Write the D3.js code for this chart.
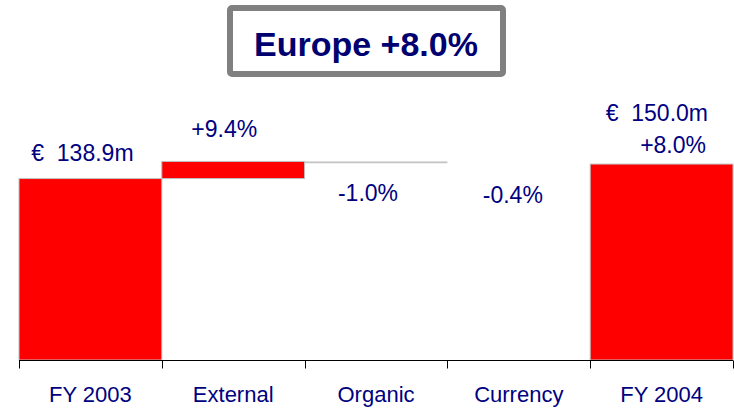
<!DOCTYPE html>
<html>
<head>
<meta charset="utf-8">
<script src="https://cdn.jsdelivr.net/npm/d3@7"></script>
<style>
  body { margin: 0; background: #fff; }
  svg { display: block; font-family: "Liberation Sans", Arial, sans-serif; }
</style>
</head>
<body>
<svg id="chart" width="734" height="411"></svg>
<script>
// waterfall data (EUR m)
const categories = ['FY 2003', 'External', 'Organic', 'Currency', 'FY 2004'];
const kinds = ['total', 'step', 'step', 'step', 'total'];
const amounts = [138.9, 13.1, -1.4, -0.6, 150.0];
const valueLabels = ['€  138.9m', '+9.4%', '-1.0%', '-0.4%', '€  150.0m'];
const extraLabels = ['', '', '', '', '+8.0%'];
const title = 'Europe +8.0%';

// label layout per category: [dx from band centre, dy from bar top]
const labelDx = [-8, -9, -8, -6, 0];
const labelDy = [-18, -24, 40, 40, -43];

const svg = d3.select('#chart');
const NAVY = '#000080';

let x = d3.scaleBand()
  .domain(categories)
  .range([19, 733])
  .padding(0);

let y = d3.scaleLinear()
  .domain([0, 160])
  .range([360, 151]);

// compute bar extents
let level = 0;
let bars = categories.map(function (c, i) {
  let from, to;
  if (kinds[i] === 'total') {
    from = 0;
    to = amounts[i];
    level = amounts[i];
  } else {
    from = level;
    to = level + amounts[i];
    level = to;
  }
  return { cat: c, i: i, from: from, to: to, kind: kinds[i], neg: to < from };
});

// bars
svg.append('g')
  .selectAll('rect')
  .data(bars)
  .join('rect')
  .attr('x', d => x(d.cat))
  .attr('width', x.bandwidth())
  .attr('y', d => y(Math.max(d.from, d.to)))
  .attr('height', d => Math.abs(y(d.from) - y(d.to)))
  .attr('fill', function (d) {
    if (!d.neg) return '#ff0000';
    return Math.abs(y(d.from) - y(d.to)) >= 1 ? '#c4c4c4' : 'none';
  })
  .attr('stroke', d => d.neg ? 'none' : '#c0c0c0')
  .attr('stroke-width', 1);

// axis baseline + boundary ticks
let axisY = y(0) + 0.5;
let bounds = categories.map(c => x(c)).concat([x.range()[1]]);
let ax = svg.append('g');
ax.append('line')
  .attr('x1', x.range()[0]).attr('x2', x.range()[1])
  .attr('y1', axisY).attr('y2', axisY)
  .attr('stroke', '#000').attr('stroke-width', 1);
ax.selectAll('line.tick')
  .data(bounds)
  .join('line')
  .attr('class', 'tick')
  .attr('x1', d => Math.round(d) + 0.5).attr('x2', d => Math.round(d) + 0.5)
  .attr('y1', axisY).attr('y2', axisY + 8)
  .attr('stroke', '#000').attr('stroke-width', 1);

// category labels
let labels = svg.append('g')
  .attr('transform', `translate(0,${axisY})`)
  .call(d3.axisBottom(x).tickSize(0).tickPadding(0));
labels.select('.domain').remove();
labels.selectAll('text')
  .attr('y', 41)
  .attr('dy', 0)
  .attr('fill', NAVY)
  .style('font-size', '22px')
  .style('font-family', '"Liberation Sans", Arial, sans-serif');

// value labels
let vl = svg.append('g')
  .style('font-size', '23px')
  .attr('fill', NAVY)
  .style('white-space', 'pre');

vl.selectAll('text')
  .data(bars)
  .join('text')
  .attr('xml:space', 'preserve')
  .attr('text-anchor', d => d.i === categories.length - 1 ? 'end' : 'middle')
  .attr('x', function (d) {
    if (d.i === categories.length - 1) return x(d.cat) + x.bandwidth() - 25;
    return x(d.cat) + x.bandwidth() / 2 + labelDx[d.i];
  })
  .attr('y', d => y(d.kind === 'total' ? d.to : Math.max(d.from, d.to)) + labelDy[d.i])
  .text(d => valueLabels[d.i]);

vl.selectAll('text.extra')
  .data(bars.filter(d => extraLabels[d.i] !== ''))
  .join('text')
  .attr('class', 'extra')
  .attr('text-anchor', 'end')
  .attr('x', d => x(d.cat) + x.bandwidth() - 27)
  .attr('y', d => y(d.to) - 11)
  .text(d => extraLabels[d.i]);

// title box
let tb = svg.append('g');
tb.append('rect')
  .attr('x', 230).attr('y', 8)
  .attr('width', 273).attr('height', 66)
  .attr('rx', 2)
  .attr('fill', '#fff')
  .attr('stroke', '#808080')
  .attr('stroke-width', 6);
tb.append('text')
  .attr('x', 366).attr('y', 56)
  .attr('text-anchor', 'middle')
  .attr('fill', '#000070')
  .style('font-size', '34px')
  .style('font-weight', 'bold')
  .text(title);
</script>
</body>
</html>
